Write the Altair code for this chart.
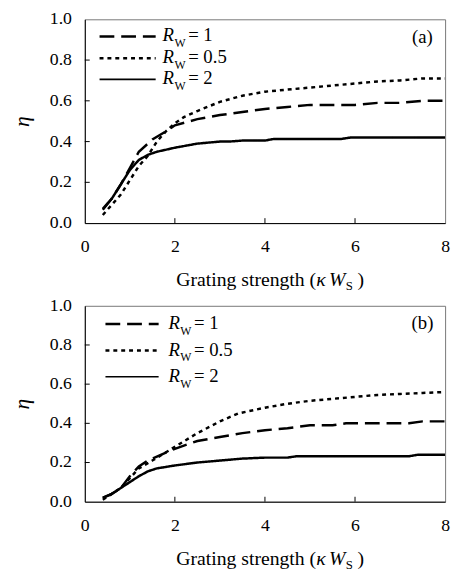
import altair as alt
import pandas as pd

FONT = "Liberation Serif"
SERIES = ["R_W = 1", "R_W = 0.5", "R_W = 2"]
LEGEND_VALUES = ["1", "0.5", "2"]
X_TICKS = [0, 2, 4, 6, 8]
Y_TICKS = [0.0, 0.2, 0.4, 0.6, 0.8, 1.0]
PANEL_TAGS = ["(a)", "(b)"]

a_x_rw1 = [0.4, 0.6, 0.8, 1.0, 1.2, 1.5, 1.8, 2.0, 2.5, 3.0, 3.5, 4.0, 4.5, 5.0, 5.5, 6.0, 6.5, 7.0, 7.5, 8.0]
a_y_rw1 = [0.065, 0.12, 0.19, 0.27, 0.35, 0.41, 0.45, 0.48, 0.51, 0.53, 0.545, 0.56, 0.57, 0.58, 0.58, 0.58, 0.59, 0.59, 0.60, 0.60]
a_x_rw05 = [0.4, 0.6, 0.8, 1.0, 1.2, 1.4, 1.6, 1.8, 2.0, 2.2, 2.5, 3.0, 3.5, 4.0, 4.5, 5.0, 5.5, 6.0, 6.5, 7.0, 7.5, 8.0]
a_y_rw05 = [0.04, 0.09, 0.14, 0.21, 0.28, 0.33, 0.40, 0.45, 0.49, 0.52, 0.55, 0.595, 0.625, 0.645, 0.655, 0.665, 0.675, 0.685, 0.695, 0.70, 0.71, 0.71]
a_x_rw2 = [0.4, 0.6, 0.8, 1.0, 1.2, 1.4, 1.6, 2.0, 2.5, 3.0, 3.2, 3.5, 4.0, 4.2, 5.0, 5.7, 5.9, 8.0]
a_y_rw2 = [0.07, 0.12, 0.19, 0.26, 0.31, 0.335, 0.35, 0.37, 0.39, 0.40, 0.40, 0.405, 0.405, 0.413, 0.413, 0.413, 0.42, 0.42]

b_x_rw1 = [0.4, 0.6, 0.8, 1.0, 1.2, 1.4, 1.6, 2.0, 2.5, 3.0, 3.5, 4.0, 4.5, 5.0, 5.5, 5.8, 6.0, 7.2, 7.5, 8.0]
b_y_rw1 = [0.02, 0.04, 0.07, 0.13, 0.18, 0.21, 0.23, 0.27, 0.31, 0.33, 0.35, 0.365, 0.375, 0.39, 0.39, 0.40, 0.40, 0.40, 0.41, 0.41]
b_x_rw05 = [0.4, 0.6, 0.8, 1.0, 1.2, 1.5, 2.0, 2.5, 3.0, 3.4, 4.0, 4.5, 5.0, 5.5, 6.0, 6.5, 7.0, 7.5, 8.0]
b_y_rw05 = [0.01, 0.04, 0.07, 0.12, 0.17, 0.21, 0.28, 0.35, 0.41, 0.45, 0.48, 0.50, 0.515, 0.525, 0.535, 0.545, 0.55, 0.555, 0.56]
b_x_rw2 = [0.4, 0.6, 0.8, 1.0, 1.2, 1.4, 1.6, 2.0, 2.5, 3.0, 3.5, 4.0, 4.5, 4.7, 7.2, 7.4, 8.0]
b_y_rw2 = [0.02, 0.04, 0.07, 0.10, 0.13, 0.155, 0.17, 0.185, 0.20, 0.21, 0.22, 0.225, 0.225, 0.232, 0.232, 0.24, 0.24]


def long_df(xs_list, ys_list):
    rows = []
    for name, xs, ys in zip(SERIES, xs_list, ys_list):
        for i, (xv, yv) in enumerate(zip(xs, ys)):
            rows.append({"series": name, "x": xv, "y": yv, "order": i})
    return pd.DataFrame(rows)


df_a = long_df([a_x_rw1, a_x_rw05, a_x_rw2], [a_y_rw1, a_y_rw05, a_y_rw2])
df_b = long_df([b_x_rw1, b_x_rw05, b_x_rw2], [b_y_rw1, b_y_rw05, b_y_rw2])

DASHES = [[15, 7], [4, 4], [1, 0]]
WIDTHS = [2.5, 2.5, 1.6]
W = 366
ONE = pd.DataFrame({"k": [0]})


def panel(df, h, tag, leg_rows, lx0, lx1, rx):
    xs = alt.Scale(domain=[0, 8], nice=False, zero=False)
    ys = alt.Scale(domain=[0, 1], nice=False)
    x = alt.X("x:Q", scale=xs, axis=alt.Axis(values=X_TICKS, format="d", title=None,
                                              tickSize=0, labelPadding=15, grid=False,
                                              labelOverlap=False, labelFlush=False,
                                              domainColor="black"))
    y = alt.Y("y:Q", scale=ys, axis=alt.Axis(values=Y_TICKS, labels=False, title="η",
                                              titleFontStyle="italic", titleFontSize=22,
                                              titleFontWeight="normal", titlePadding=52,
                                              tickSize=0, grid=False,
                                              domainColor="black"))
    lines = alt.Chart(df).mark_line(color="black", clip=True).encode(
        x=x, y=y, order="order:Q",
        strokeDash=alt.StrokeDash("series:N", scale=alt.Scale(domain=SERIES, range=DASHES), legend=None),
        strokeWidth=alt.StrokeWidth("series:N", scale=alt.Scale(domain=SERIES, range=WIDTHS), legend=None),
    )
    xt = alt.Chart(pd.DataFrame({"x": X_TICKS[1:-1]})).mark_rule(color="black").encode(
        x=alt.X("x:Q", scale=xs), y=alt.value(h), y2=alt.value(h - 5))
    yt = alt.Chart(pd.DataFrame({"y": Y_TICKS[1:-1]})).mark_rule(color="black").encode(
        y=alt.Y("y:Q", scale=ys), x=alt.value(0), x2=alt.value(5))
    ylab = alt.Chart(pd.DataFrame({"y": Y_TICKS})).mark_text(
        font=FONT, fontSize=18, align="right", baseline="middle", dx=-13, color="black").encode(
        y=alt.Y("y:Q", scale=ys), x=alt.value(0), text=alt.Text("y:Q", format=".1f"))
    layers = [lines, xt, yt, ylab]
    for i, yy in enumerate(leg_rows):
        layers.append(alt.Chart(ONE).mark_rule(color="black", strokeDash=DASHES[i],
                                               strokeWidth=WIDTHS[i]).encode(
            x=alt.value(lx0), x2=alt.value(lx1), y=alt.value(yy)))
        layers.append(alt.Chart(ONE).mark_text(text="R", font=FONT, fontSize=19, fontStyle="italic",
                                               align="left", baseline="middle").encode(
            x=alt.value(rx), y=alt.value(yy - 1)))
        layers.append(alt.Chart(ONE).mark_text(text="W", font=FONT, fontSize=12,
                                               align="left", baseline="middle").encode(
            x=alt.value(rx + 12), y=alt.value(yy + 7)))
        layers.append(alt.Chart(ONE).mark_text(text="= " + LEGEND_VALUES[i], font=FONT, fontSize=19,
                                               align="left", baseline="middle").encode(
            x=alt.value(rx + 26), y=alt.value(yy - 1)))
    layers.append(alt.Chart(ONE).mark_text(text=tag, font=FONT, fontSize=19,
                                           align="center", baseline="middle").encode(
        x=alt.value(343), y=alt.value(18)))
    ty = h + 64
    layers.append(alt.Chart(ONE).mark_text(text="Grating strength (", font=FONT, fontSize=20,
                                           align="right", baseline="alphabetic").encode(
        x=alt.value(235), y=alt.value(ty)))
    layers.append(alt.Chart(ONE).mark_text(text="κ", font=FONT, fontSize=20, fontStyle="italic",
                                           align="left", baseline="alphabetic").encode(
        x=alt.value(235), y=alt.value(ty)))
    layers.append(alt.Chart(ONE).mark_text(text="W", font=FONT, fontSize=20, fontStyle="italic",
                                           align="left", baseline="alphabetic").encode(
        x=alt.value(248), y=alt.value(ty)))
    layers.append(alt.Chart(ONE).mark_text(text="S", font=FONT, fontSize=13,
                                           align="left", baseline="alphabetic").encode(
        x=alt.value(265), y=alt.value(ty + 4)))
    layers.append(alt.Chart(ONE).mark_text(text=")", font=FONT, fontSize=20,
                                           align="left", baseline="alphabetic").encode(
        x=alt.value(277), y=alt.value(ty)))
    return alt.layer(*layers).properties(width=W, height=h)


pa = panel(df_a, 207, PANEL_TAGS[0], [17.5, 39.5, 61], 15, 72, 79)
pb = panel(df_b, 199, PANEL_TAGS[1], [18.5, 45.5, 72], 21, 75, 85)

chart = alt.vconcat(pa, pb, spacing=2).resolve_scale(y="independent", x="independent").properties(
    padding={"left": 2, "top": -3, "right": 2, "bottom": 0}
).configure_axis(
    labelFont=FONT, labelFontSize=18, labelColor="black",
    titleFont=FONT, titleColor="black",
).configure_view(stroke="#777", strokeWidth=1)

chart.save("out.html", embed_options={"renderer": "svg", "actions": False})
